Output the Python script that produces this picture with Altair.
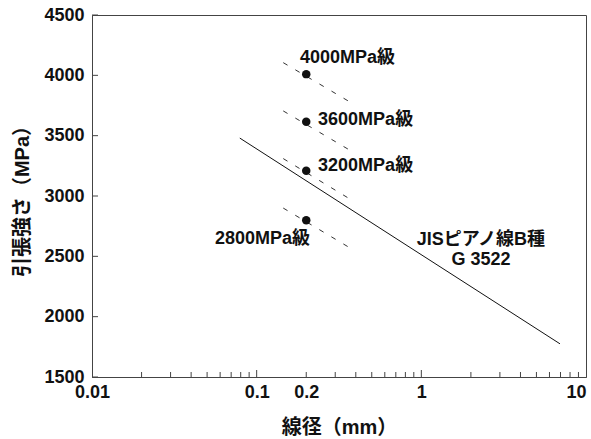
import altair as alt
import pandas as pd

FONT = "Liberation Sans, Noto Sans CJK JP, sans-serif"

# Grade points (diameter 0.2 mm)
grade_names = ["4000MPa級", "3600MPa級", "3200MPa級", "2800MPa級"]
grade_x = [0.2, 0.2, 0.2, 0.2]
grade_y = [4010, 3615, 3210, 2800]

# Dashed guide lines through each grade point (start / end)
dash_x0 = [0.145, 0.145, 0.145, 0.145]
dash_y0 = [4105, 3705, 3310, 2900]
dash_x1 = [0.395, 0.395, 0.395, 0.39]
dash_y1 = [3755, 3355, 2950, 2550]

# JIS piano wire B line
jis_x = [0.079, 6.95]
jis_y = [3480, 1775]

# Annotation texts
label_text = ["4000MPa級", "3600MPa級", "3200MPa級", "2800MPa級", "JISピアノ線B種", "G 3522"]
label_x = [0.183, 0.236, 0.236, 0.211, 2.3, 2.3]
label_y = [4146, 3632, 3251, 2646, 2638, 2472]
label_align = ["left", "left", "left", "right", "center", "center"]

# Axis ticks
x_label_values = [0.01, 0.1, 0.2, 1, 10]
x_major_ticks = [0.1, 1]
x_minor_ticks = [0.02, 0.03, 0.04, 0.05, 0.06, 0.07, 0.08, 0.09,
                 0.2, 0.3, 0.4, 0.5, 0.6, 0.7, 0.8, 0.9,
                 2, 3, 4, 5, 6, 7, 8, 9]
y_ticks = [1500, 2000, 2500, 3000, 3500, 4000, 4500]

W, H = 494, 362

xs = alt.Scale(type="log", domain=[0.01, 10], nice=False)
ys = alt.Scale(domain=[1500, 4500], nice=False)

dash_rows = []
for n, a, b, c, d in zip(grade_names, dash_x0, dash_y0, dash_x1, dash_y1):
    dash_rows.append({"g": n, "x": a, "y": b})
    dash_rows.append({"g": n, "x": c, "y": d})
dash_df = pd.DataFrame(dash_rows)

pts_df = pd.DataFrame({"x": grade_x, "y": grade_y, "g": grade_names})
jis_df = pd.DataFrame({"x": jis_x, "y": jis_y})
lab_df = pd.DataFrame({"x": label_x, "y": label_y, "t": label_text, "a": label_align})

base_x = alt.X("x:Q", scale=xs,
               axis=alt.Axis(values=x_label_values, tickSize=0, grid=False,
                             labelExpr="format(datum.value, '~g')",
                             labelPadding=6,
                             labelAlign={"condition": {"test": "datum.value == 10", "value": "right"}, "value": "center"},
                             title="線径（mm）", titleY=50, titleBaseline="middle"))
base_y = alt.Y("y:Q", scale=ys,
               axis=alt.Axis(values=y_ticks, tickSize=0, grid=False, labelPadding=8, format="d",
                             title="引張強さ（MPa）", titleX=-70, titleY=H / 2,
                             titleAngle=-90, titleBaseline="middle", titleAlign="center"))

dashed = alt.Chart(dash_df).mark_line(color="#333", strokeWidth=1, strokeDash=[5, 9]).encode(
    x=base_x, y=base_y, detail="g:N")

jis = alt.Chart(jis_df).mark_line(color="#111", strokeWidth=1).encode(x="x:Q", y="y:Q")

pts = alt.Chart(pts_df).mark_circle(color="#111", size=72, opacity=1).encode(x="x:Q", y="y:Q")

TXT = dict(baseline="middle", font=FONT, fontSize=18, fontWeight="bold", color="#111")
labels_left = alt.Chart(lab_df[lab_df.a == "left"]).mark_text(align="left", **TXT).encode(
    x="x:Q", y="y:Q", text="t:N")
labels_right = alt.Chart(lab_df[lab_df.a == "right"]).mark_text(align="right", **TXT).encode(
    x="x:Q", y="y:Q", text="t:N")
labels_center = alt.Chart(lab_df[lab_df.a == "center"]).mark_text(align="center", **TXT).encode(
    x="x:Q", y="y:Q", text="t:N")

xmaj = alt.Chart(pd.DataFrame({"x": x_major_ticks})).mark_rule(color="#444", strokeWidth=1).encode(
    x="x:Q", y=alt.value(H), y2=alt.value(H - 7))
xmin = alt.Chart(pd.DataFrame({"x": x_minor_ticks})).mark_rule(color="#444", strokeWidth=1).encode(
    x="x:Q", y=alt.value(H), y2=alt.value(H - 5))
ytk = alt.Chart(pd.DataFrame({"y": y_ticks})).mark_rule(color="#444", strokeWidth=1).encode(
    y="y:Q", x=alt.value(0), x2=alt.value(6))

chart = alt.layer(dashed, jis, pts, labels_left, labels_right, labels_center, xmaj, xmin, ytk).properties(
    width=W, height=H,
    autosize=alt.AutoSizeParams(type="none"),
    padding={"left": 92, "top": 15, "right": 5, "bottom": 62},
    background="white",
).configure_view(
    stroke="#444", strokeWidth=1
).configure_axis(
    domainColor="#444", domainWidth=1,
    labelFont=FONT, labelFontSize=18, labelFontWeight="bold", labelColor="#111",
    titleFont=FONT, titleFontSize=20, titleFontWeight="bold", titleColor="#111",
)

chart.save("out.html", embed_options={"renderer": "svg", "actions": False})
